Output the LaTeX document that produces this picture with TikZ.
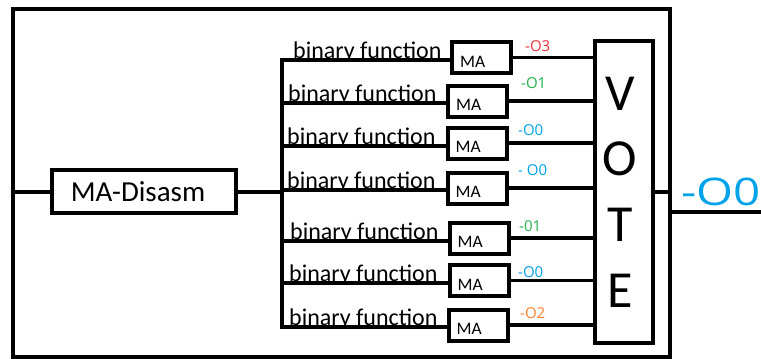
\documentclass[tikz,border=0pt]{standalone}
\usepackage{fontspec}
\setmainfont{Carlito}
\newfontfamily\labfont{Open Sans}
\usetikzlibrary{calc}
\definecolor{lblred}{HTML}{F0323C}
\definecolor{lblgreen}{HTML}{22B14C}
\definecolor{lblblue}{HTML}{00A2E8}
\definecolor{lblorange}{HTML}{FF7F27}
\begin{document}
\begin{tikzpicture}[x=1pt,y=-1pt, line join=miter,
  boxline/.style={draw=black,line width=4pt,rectangle,inner sep=0pt},
  mabox/.style={boxline, minimum width=59pt, minimum height=31pt},
  matext/.style={anchor=base west, inner sep=0pt, font=\fontsize{17.5}{17.5}\selectfont},
  bftext/.style={anchor=base west, inner sep=0pt, font=\fontsize{24}{24}\selectfont},
  outlab/.style={anchor=west, inner sep=0pt, font=\labfont\fontsize{15}{15}\selectfont},
  wire/.style={line width=4pt},
  owire/.style={line width=3.5pt}]
\useasboundingbox (0,0) rectangle (761,359);
\node[boxline, minimum width=657pt, minimum height=347.5pt] (outer) at (341.5,182.75) {};
\node[boxline, minimum width=184pt, minimum height=43pt, font=\fontsize{29}{29}\selectfont] (dis) at (144,191.5) {MA-Disasm\kern12pt};
\node[boxline, minimum width=58pt, minimum height=302pt, align=center, font=\fontsize{52}{65.7}\selectfont] (vote) at (624,192) {V\kern8pt\\O\kern8pt\\T\kern8pt\\E\kern8pt};
% MA boxes
\node[mabox] (m1) at (481.5,57.5) {};
\node[mabox] (m2) at (477.5,101) {};
\node[mabox] (m3) at (477,143) {};
\node[mabox] (m4) at (477,188) {};
\node[mabox] (m5) at (479,238) {};
\node[mabox] (m6) at (479,280.5) {};
\node[mabox] (m7) at (478,325) {};
\foreach \i in {1,...,7}{
  \node[matext] (t\i) at ($(m\i.south west)+(10,-8)$) {MA};
}
% bus points
\coordinate (b1) at (282,60);
\coordinate (b2) at (282,103);
\coordinate (b3) at (282,146);
\coordinate (b4) at (282,190);
\coordinate (b5) at (282,241);
\coordinate (b6) at (282,283);
\coordinate (b7) at (282,327);
% binary function labels
\node[bftext] (f1) at (293,58) {binary function};
\node[bftext] (f2) at (288,101) {binary function};
\node[bftext] (f3) at (287,144) {binary function};
\node[bftext] (f4) at (287,188) {binary function};
\node[bftext] (f5) at (290,239) {binary function};
\node[bftext] (f6) at (289,281) {binary function};
\node[bftext] (f7) at (289,325) {binary function};
% wires
\draw[wire] (m1.west |- b1) -- (b1) -- (b7) -- (m7.west |- b7);
\foreach \i in {2,...,6}{
  \draw[wire] (b\i) -- (m\i.west |- b\i);
}
\draw[wire] (dis.east) -- (dis.east -| b1);
\draw[wire] (outer.west |- dis.west) -- (dis.west);
\foreach \i in {1,...,7}{
  \draw[owire] (m\i.east) -- (m\i.east -| vote.west);
}
\draw[wire] (vote.east) -- (vote.east -| outer.east);
\coordinate (oend) at (761,212);
\draw[wire] (outer.east |- oend) -- (oend);
% output labels
\node[outlab, text=lblred] (o1) at (525,46) {-O3};
\node[outlab, text=lblgreen] (o2) at (521,83) {-O1};
\node[outlab, text=lblblue] (o3) at (518,130) {-O0};
\node[outlab, text=lblblue] (o4) at (518,170) {- O0};
\node[outlab, text=lblgreen] (o5) at (519,226) {-01};
\node[outlab, text=lblblue] (o6) at (518,272) {-O0};
\node[outlab, text=lblorange] (o7) at (520,313) {-O2};
\node[anchor=base west, inner sep=0pt, text=lblblue, font=\labfont\fontsize{38}{38}\selectfont] (res) at (681,205) {\scalebox{1.25}[1]{-O0}};
\end{tikzpicture}
\end{document}
